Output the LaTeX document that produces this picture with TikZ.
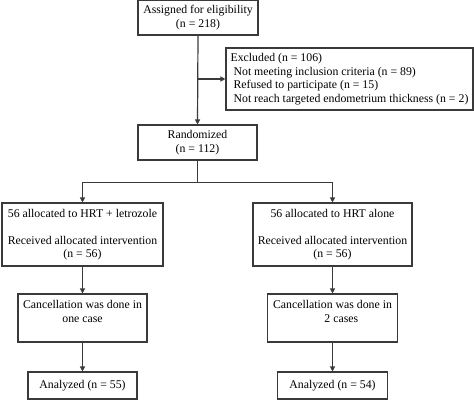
\documentclass[tikz,border=0pt]{standalone}
\usepackage{fontspec}
\setmainfont{Liberation Serif}
\usepackage{tikz}
\usetikzlibrary{positioning, arrows.meta}
\definecolor{boxgray}{HTML}{3A3A3A}

\begin{document}
\begin{tikzpicture}[x=1pt, y=-1pt,
    flowbox/.style={draw=boxgray, line width=1.1pt, inner sep=0pt, align=center,
                    font=\fontsize{11.8}{13.5}\selectfont},
    flowarrow/.style={draw=boxgray, line width=1.2pt, -{Triangle[length=5pt, width=5pt]}}]
    \useasboundingbox (0,0) rectangle (474,400);

    \node[flowbox, minimum width=120pt, minimum height=35pt] (assign) at (198,17.5)
      {Assigned for eligibility\\(n = 218)};
    \node[flowbox, align=left, minimum width=247pt, minimum height=62pt] (excl) at (349.5,79)
      {Excluded (n = 106)\\
       \hspace{3pt}Not meeting inclusion criteria (n = 89)\\
       \hspace{3pt}Refused to participate (n = 15)\\
       \hspace{3pt}Not reach targeted endometrium thickness (n = 2)};
    \node[flowbox, minimum width=119pt, minimum height=35pt] (rand) at (197.5,142.5)
      {Randomized\\(n = 112)};

    \node[flowbox, minimum width=161pt, minimum height=63pt] (armA) at (82.5,234.5)
      {56 allocated to HRT + letrozole\\[13.5pt]Received allocated intervention\\(n = 56)};
    \node[flowbox, minimum width=159pt, minimum height=63pt] (armB) at (332.5,234.5)
      {56 allocated to HRT alone\\[13.5pt]Received allocated intervention\\(n = 56)};

    \node[flowbox, minimum width=129pt, minimum height=48pt] (cancA) at (82.5,318)
      {Cancellation was done in\\one case\\\mbox{}};
    \node[flowbox, minimum width=130pt, minimum height=48pt] (cancB) at (332.5,318)
      {Cancellation was done in\\\hspace{1.5em}2 cases\\\mbox{}};

    \node[flowbox, minimum width=109pt, minimum height=27pt] (anaA) at (82.5,385.5)
      {Analyzed (n = 55)};
    \node[flowbox, minimum width=110pt, minimum height=27pt] (anaB) at (332.5,385.5)
      {Analyzed (n = 54)};

    % connectors
    \draw[flowarrow] (assign.south) -- (rand.north);
    \draw[flowarrow] (assign.south |- excl.west) -- (excl.west);
    \draw[draw=boxgray, line width=1.2pt] (rand.south) -- ++(0,22) coordinate (split);
    \draw[flowarrow] (split) -| (armA.north);
    \draw[flowarrow] (split) -| (armB.north);
    \draw[flowarrow] (armA.south) -- (cancA.north);
    \draw[flowarrow] (armB.south) -- (cancB.north);
    \draw[flowarrow] (cancA.south) -- (anaA.north);
    \draw[flowarrow] (cancB.south) -- (anaB.north);
  \end{tikzpicture}
\end{document}
